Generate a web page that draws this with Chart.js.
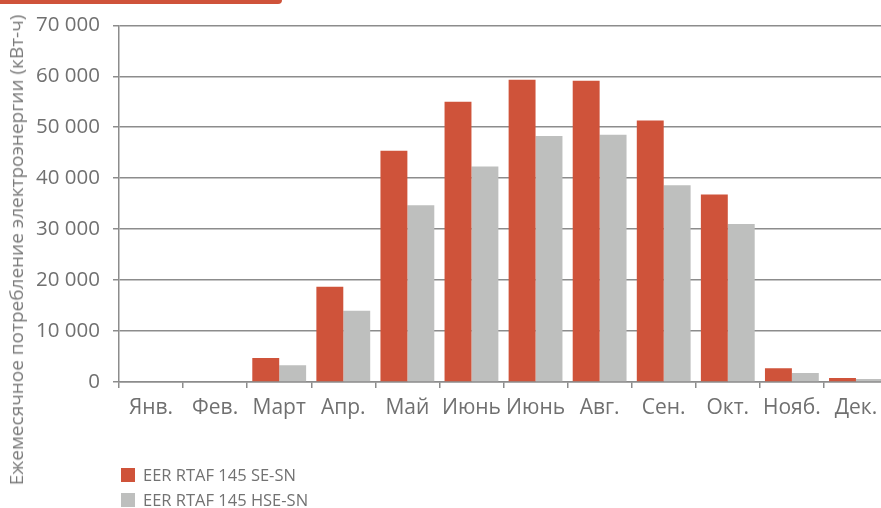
<!DOCTYPE html>
<html>
<head>
<meta charset="utf-8">
<script src="https://cdn.jsdelivr.net/npm/chart.js@4"></script>
<style>
  html, body { margin: 0; padding: 0; background: #fff; overflow: hidden; }
  #page { position: relative; width: 881px; height: 508px; overflow: hidden; font-family: "Open Sans", sans-serif; }
  #box { position: absolute; left: 0; top: 0; width: 888px; height: 508px; }
  #topbar { position: absolute; left: 0; top: 0; width: 282px; height: 4px; background: #CF533A; border-bottom-right-radius: 5px; }
  #ytitle { position: absolute; left: 16px; top: 250px; transform: translate(-50%, -50%) rotate(-90deg); white-space: nowrap; font-size: 19px; color: #7a7a7a; }
  #legend { position: absolute; left: 121px; top: 462px; font-size: 16.5px; color: #727272; line-height: 1; }
  #legend div { height: 25.5px; display: flex; align-items: center; }
  #legend span.sw { display: inline-block; width: 14px; height: 14px; margin-right: 8px; }
</style>
</head>
<body>
<div id="page">
  <div id="box"><canvas id="chart"></canvas></div>
  <div id="topbar"></div>
  <div id="ytitle">Ежемесячное потребление электроэнергии (кВт-ч)</div>
  <div id="legend"></div>
</div>
<script>
var months = ['Янв.', 'Фев.', 'Март', 'Апр.', 'Май', 'Июнь', 'Июнь', 'Авг.', 'Сен.', 'Окт.', 'Нояб.', 'Дек.'];
var seSn = [0, 0, 4700, 18700, 45400, 55000, 59300, 59100, 51300, 36800, 2700, 800];
var hseSn = [0, 0, 3300, 14000, 34700, 42300, 48300, 48500, 38600, 31000, 1750, 600];
var seriesNames = ['EER RTAF 145 SE-SN', 'EER RTAF 145 HSE-SN'];
var seriesColors = ['#CF533A', '#BEBFBE'];

var gridColor = '#8c8c8c';
var textColor = '#707070';

function fmt(v) {
    return String(v).replace(/\B(?=(\d{3})+(?!\d))/g, ' ');
}

var ctx = document.getElementById('chart');

var chartGraph = new Chart(ctx, {
    type: 'bar',
    data: {
        labels: months,
        datasets: [
            { label: seriesNames[0], data: seSn, backgroundColor: seriesColors[0], borderWidth: 0 },
            { label: seriesNames[1], data: hseSn, backgroundColor: seriesColors[1], borderWidth: 0 }
        ]
    },
    options: {
        responsive: true,
        maintainAspectRatio: false,
        animation: false,
        layout: { padding: { top: 23, right: 0, bottom: 86, left: 0 } },
        datasets: { bar: { categoryPercentage: 0.84, barPercentage: 1 } },
        plugins: {
            legend: { display: false },
            tooltip: { enabled: false }
        },
        scales: {
            x: {
                grid: { drawOnChartArea: false, drawTicks: true, tickLength: 6, color: gridColor, lineWidth: 1.5, offset: true },
                border: { display: true, color: gridColor, width: 1.5 },
                ticks: { color: textColor, font: { family: 'Open Sans', size: 21 }, padding: 7, maxRotation: 0, autoSkip: false },
                afterFit: function (scale) { scale.height = 40; }
            },
            y: {
                min: 0,
                max: 70000,
                grid: { color: gridColor, lineWidth: 1.5, drawTicks: true, tickLength: 6 },
                border: { display: true, color: gridColor, width: 1.5 },
                ticks: {
                    stepSize: 10000,
                    color: textColor,
                    font: { family: 'Open Sans', size: 20.5 },
                    padding: 13,
                    callback: function (v) { return fmt(v); }
                },
                afterFit: function (scale) { scale.width = 119; }
            }
        }
    }
});

// legend under the chart
var leg = document.getElementById('legend');
seriesNames.forEach(function (name, i) {
    var row = document.createElement('div');
    var sw = document.createElement('span');
    sw.className = 'sw';
    sw.style.background = seriesColors[i];
    row.appendChild(sw);
    row.appendChild(document.createTextNode(name));
    leg.appendChild(row);
});
</script>
</body>
</html>
